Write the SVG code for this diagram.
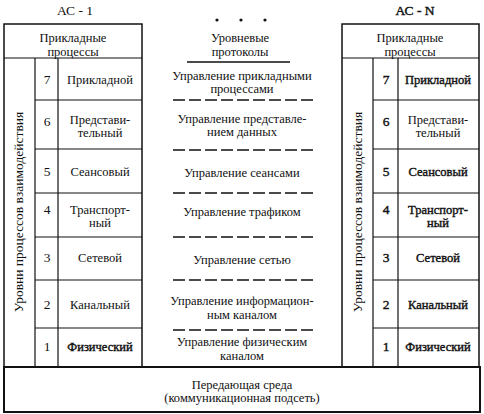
<svg xmlns="http://www.w3.org/2000/svg" width="484" height="414" viewBox="0 0 484 414">
<style>
text{font-family:"Liberation Serif","Times New Roman",serif;font-size:12.5px;fill:#111;text-anchor:middle}
.t{font-size:13.5px}
.bb{stroke:#111;stroke-width:0.4}
.box{fill:none;stroke:#111;stroke-width:1.5}
.ln{stroke:#111;stroke-width:1.2;fill:none}
.dash{stroke:#111;stroke-width:1.3;stroke-dasharray:12 4;fill:none}
.solid{stroke:#111;stroke-width:1.3}
</style>
<rect width="484" height="414" fill="#fff"/>
<g id="title-ac1"><text class="t" x="75" y="15">АС - 1</text></g>
<g id="title-acn"><text class="t bb" x="415" y="15">АС - N</text></g>
<g id="dots"><circle cx="217" cy="20" r="1.6" fill="#111"/><circle cx="241" cy="20" r="1.6" fill="#111"/><circle cx="265" cy="20" r="1.6" fill="#111"/></g>

<g id="ac1">
<rect class="box" x="4" y="24" width="138" height="343"/>
<line class="ln" x1="4" y1="58" x2="142" y2="58"/>
<line class="ln" x1="35" y1="58" x2="35" y2="367"/>
<line class="ln" x1="58" y1="58" x2="58" y2="367"/>
<line class="ln" x1="35" y1="100" x2="142" y2="100"/>
<line class="ln" x1="35" y1="149" x2="142" y2="149"/>
<line class="ln" x1="35" y1="193" x2="142" y2="193"/>
<line class="ln" x1="35" y1="237" x2="142" y2="237"/>
<line class="ln" x1="35" y1="280" x2="142" y2="280"/>
<line class="ln" x1="35" y1="328" x2="142" y2="328"/>
<text x="73" y="42">Прикладные</text><text x="73" y="56">процессы</text>
<text class="t" transform="translate(23,212) rotate(-90)">Уровни процессов взаимодействия</text>
<text class="t" x="47" y="84">7</text><text x="100" y="84">Прикладной</text>
<text class="t" x="47" y="126">6</text><text x="100" y="124">Представи-</text><text x="100" y="137">тельный</text>
<text class="t" x="47" y="176">5</text><text x="100" y="176">Сеансовый</text>
<text class="t" x="47" y="214">4</text><text x="100" y="214">Транспорт-</text><text x="100" y="227">ный</text>
<text class="t" x="47" y="262">3</text><text x="100" y="262">Сетевой</text>
<text class="t" x="47" y="309">2</text><text x="100" y="309">Канальный</text>
<text class="t" x="47" y="351">1</text><text class="bb" x="100" y="351">Физический</text>
</g>

<g id="acn">
<rect class="box" x="342" y="24" width="137" height="343"/>
<line class="ln" x1="342" y1="58" x2="479" y2="58"/>
<line class="ln" x1="373" y1="58" x2="373" y2="367"/>
<line class="ln" x1="398" y1="58" x2="398" y2="367"/>
<line class="ln" x1="373" y1="100" x2="479" y2="100"/>
<line class="ln" x1="373" y1="149" x2="479" y2="149"/>
<line class="ln" x1="373" y1="193" x2="479" y2="193"/>
<line class="ln" x1="373" y1="237" x2="479" y2="237"/>
<line class="ln" x1="373" y1="280" x2="479" y2="280"/>
<line class="ln" x1="373" y1="328" x2="479" y2="328"/>
<text x="410" y="42">Прикладные</text><text x="410" y="56">процессы</text>
<text class="t" transform="translate(362,212) rotate(-90)">Уровни процессов взаимодействия</text>
<text class="t bb" x="386" y="84">7</text><text class="bb" x="438" y="84">Прикладной</text>
<text class="t bb" x="386" y="126">6</text><text x="438" y="124">Представи-</text><text x="438" y="137">тельный</text>
<text class="t bb" x="386" y="176">5</text><text class="bb" x="438" y="176">Сеансовый</text>
<text class="t bb" x="386" y="214">4</text><text class="bb" x="438" y="214">Транспорт-</text><text class="bb" x="438" y="227">ный</text>
<text class="t bb" x="386" y="262">3</text><text class="bb" x="438" y="262">Сетевой</text>
<text class="t bb" x="386" y="309">2</text><text class="bb" x="438" y="309">Канальный</text>
<text class="t bb" x="386" y="351">1</text><text class="bb" x="438" y="351">Физический</text>
</g>

<g id="protocols">
<text x="240" y="42">Уровневые</text><text x="240" y="56">протоколы</text>
<text x="242" y="80">Управление прикладными</text><text x="242" y="93">процессами</text>
<text x="242" y="123">Управление представле-</text><text x="242" y="136">нием данных</text>
<text x="242" y="177">Управление сеансами</text>
<text x="242" y="216">Управление трафиком</text>
<text x="242" y="264">Управление сетью</text>
<text x="242" y="305">Управление информацион-</text><text x="242" y="319">ным каналом</text>
<text x="242" y="346">Управление физическим</text><text x="242" y="360">каналом</text>
</g>

<g id="connectors">
<line class="solid" x1="187" y1="62" x2="290" y2="62"/>
<line class="dash" x1="173" y1="100" x2="313" y2="100"/>
<line class="dash" x1="173" y1="150" x2="313" y2="150"/>
<line class="dash" x1="173" y1="193" x2="313" y2="193"/>
<line class="dash" x1="173" y1="237" x2="313" y2="237"/>
<line class="dash" x1="173" y1="280" x2="313" y2="280"/>
<line class="dash" x1="173" y1="330" x2="313" y2="330"/>
</g>

<g id="medium">
<rect x="4" y="367" width="476" height="45" fill="none" stroke="#111" stroke-width="2"/>
<text x="242" y="389">Передающая среда</text>
<text x="242" y="402">(коммуникационная подсеть)</text>
</g>
</svg>
